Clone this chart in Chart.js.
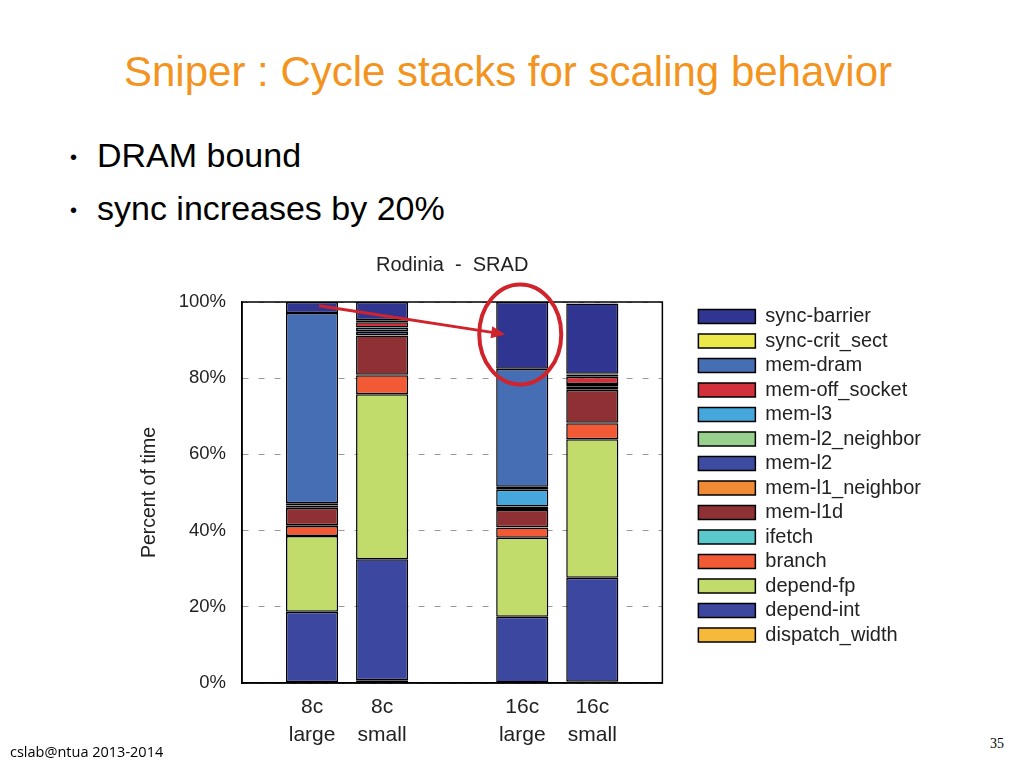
<!DOCTYPE html>
<html>
 <head>
  <meta charset="utf-8">
  <title>Sniper : Cycle stacks for scaling behavior</title>
  <script src="https://cdn.jsdelivr.net/npm/chart.js"></script>
  <style>
    body { margin: 0; width: 1024px; height: 768px; background: #fff; position: relative; overflow: hidden; font-family: "Liberation Sans", Arial, sans-serif; }
    h1 { position: absolute; left: 0; width: 1016px; top: 51px; margin: 0; text-align: center; font-weight: normal; font-size: 42px; line-height: 42px; color: #f39420; }
    ul { position: absolute; left: 70px; top: 138px; margin: 0; padding: 0; list-style: none; font-size: 34px; line-height: 34px; color: #000; }
    ul li { margin-bottom: 19px; }
    ul li:before { content: "\2022"; font-size: 20px; position: absolute; left: 0; margin-top: 2px; }
    ul li span { margin-left: 27px; }
    #wrap { position: absolute; left: 120px; top: 245px; width: 821px; height: 515px; }
    #foot { position: absolute; left: 10px; top: 742px; font-size: 14.5px; color: #000; font-family: "Open Sans", sans-serif; }
    #page { position: absolute; left: 990px; top: 736px; font-size: 14px; font-family: "Liberation Serif", serif; }
  </style>
 </head>
 <body>
  <h1>Sniper : Cycle stacks for scaling behavior</h1>
  <ul>
    <li><span>DRAM bound</span></li>
    <li><span>sync increases by 20%</span></li>
  </ul>
  <div id="wrap"><canvas id="myChart"></canvas></div>
  <div id="foot">cslab@ntua 2013-2014</div>
  <div id="page">35</div>
  <script type="text/javascript">
    // x slots: empty ends and an empty gap between the 8c and 16c pairs
    var xLabels = ["", ["8c", "large"], ["8c", "small"], "", ["16c", "large"], ["16c", "small"], ""];
    var yTicks = [0, 20, 40, 60, 80, 100];

    // percent of time, one value per x slot (null = no bar)
    var dispatchWidth  = [null, 0.2, 0.7, null, 0.1, 0.3, null];
    var dependInt      = [null, 18.5, 31.8, null, 17.3, 27.3, null];
    var dependFp       = [null, 19.9, 43.3, null, 20.7, 36.4, null];
    var branch         = [null, 2.6, 5.0, null, 2.7, 4.2, null];
    var ifetch         = [null, 0.2, 0.1, null, 0.1, 0.1, null];
    var memL1d         = [null, 4.5, 10.3, null, 4.5, 8.6, null];
    var memL1Neighbor  = [null, 0.2, 0.1, null, 0.3, 0.2, null];
    var memL2          = [null, 0.5, 0.9, null, 0.5, 0.6, null];
    var memL2Neighbor  = [null, 0.1, 0.2, null, 0.1, 0.2, null];
    var memL3          = [null, 0.3, 0.9, null, 4.4, 0.6, null];
    var memOffSocket   = [null, 0.2, 1.4, null, 0.8, 1.9, null];
    var memDram        = [null, 49.9, 0.4, null, 30.9, 0.6, null];
    var syncCritSect   = [null, 0.0, 0.2, null, 0.1, 0.2, null];
    var syncBarrier    = [null, 2.9, 4.7, null, 17.5, 18.4, null];

    var series = [
      ["dispatch_width", dispatchWidth, "#f6b93a"],
      ["depend-int", dependInt, "#3c479f"],
      ["depend-fp", dependFp, "#c2dc6c"],
      ["branch", branch, "#f15a35"],
      ["ifetch", ifetch, "#5bc8cc"],
      ["mem-l1d", memL1d, "#8f3134"],
      ["mem-l1_neighbor", memL1Neighbor, "#f08a35"],
      ["mem-l2", memL2, "#3d4ba0"],
      ["mem-l2_neighbor", memL2Neighbor, "#98d08d"],
      ["mem-l3", memL3, "#45a7dc"],
      ["mem-off_socket", memOffSocket, "#d2303a"],
      ["mem-dram", memDram, "#456eb5"],
      ["sync-crit_sect", syncCritSect, "#ede84a"],
      ["sync-barrier", syncBarrier, "#2f3590"]
    ];

    var frame = {
      id: 'frame',
      afterDatasetsDraw: function (chart) {
        var a = chart.chartArea, c = chart.ctx;
        c.save();
        c.strokeStyle = '#000';
        c.lineWidth = 1.5;
        c.strokeRect(a.left, a.top, a.right - a.left, a.bottom - a.top);
        // red highlight: arrow from 8c large sync to 16c large sync, circle around it
        var xs = chart.scales.x, ys = chart.scales.y;
        c.strokeStyle = '#d0232b';
        c.fillStyle = '#d0232b';
        c.lineWidth = 3;
        var x0 = xs.getPixelForTick(1) + 7, y0 = ys.getPixelForValue(99);
        var x1 = xs.getPixelForTick(4) - 17, y1 = ys.getPixelForValue(91.5);
        var ang = Math.atan2(y1 - y0, x1 - x0);
        c.beginPath();
        c.moveTo(x0, y0);
        c.lineTo(x1 - 10 * Math.cos(ang), y1 - 10 * Math.sin(ang));
        c.stroke();
        c.beginPath();
        c.moveTo(x1, y1);
        c.lineTo(x1 - 14 * Math.cos(ang) + 6 * Math.sin(ang), y1 - 14 * Math.sin(ang) - 6 * Math.cos(ang));
        c.lineTo(x1 - 14 * Math.cos(ang) - 6 * Math.sin(ang), y1 - 14 * Math.sin(ang) + 6 * Math.cos(ang));
        c.closePath();
        c.fill();
        c.lineWidth = 4;
        c.beginPath();
        c.ellipse(xs.getPixelForTick(4) - 2, ys.getPixelForValue(91.5), 41, 50, 0, 0, 2 * Math.PI);
        c.stroke();
        c.restore();
      }
    };

    var ctx = document.getElementById('myChart').getContext('2d');
    var myChart = new Chart(ctx, {
      type: 'bar',
      data: {
        labels: xLabels,
        datasets: series.map(function (s) {
          return {
            label: s[0],
            data: s[1],
            backgroundColor: s[2],
            borderColor: '#000',
            borderWidth: 1.5,
            borderSkipped: false,
            categoryPercentage: 0.8,
            barPercentage: 0.93
          };
        })
      },
      options: {
        responsive: true,
        maintainAspectRatio: false,
        animation: false,
        layout: { padding: { right: 10, bottom: 0 } },
        plugins: {
          title: {
            display: true,
            fullSize: false,
            text: 'Rodinia  -  SRAD',
            color: '#222',
            font: { family: 'Liberation Sans', size: 20, weight: 'normal' },
            padding: { top: 8, bottom: 25 }
          },
          legend: {
            position: 'right',
            fullSize: false,
            align: 'start',
            reverse: true,
            maxWidth: 320,
            labels: {
              boxWidth: 57,
              boxHeight: 14,
              padding: 4.5,
              color: '#222',
              font: { family: 'Liberation Sans', size: 20 }
            }
          },
          tooltip: { enabled: false }
        },
        scales: {
          x: {
            stacked: true,
            offset: false,
            grid: { display: false },
            border: { display: true, color: '#000', width: 1.5 },
            ticks: {
              autoSkip: false,
              maxRotation: 0,
              padding: 2,
              color: '#222',
              font: { family: 'Liberation Sans', size: 21, lineHeight: 1.33 }
            },
            afterFit: function (s) { s.height = 77; }
          },
          y: {
            stacked: true,
            min: 0,
            max: 100,
            afterBuildTicks: function (s) { s.ticks = yTicks.map(function (v) { return { value: v }; }); },
            grid: { color: '#9a9a9a', lineWidth: 1, drawTicks: false },
            border: { display: true, color: '#000', width: 1.5, dash: [6, 10] },
            ticks: {
              padding: 16,
              color: '#222',
              font: { family: 'Liberation Sans', size: 18.5 },
              callback: function (v) { return v + '%'; }
            },
            title: {
              display: true,
              text: 'Percent of time',
              color: '#222',
              font: { family: 'Liberation Sans', size: 19.5 },
              padding: { top: 18, bottom: 0 }
            },
            afterFit: function (s) { s.width = 122; }
          },
          gap: {
            position: 'right',
            display: true,
            ticks: { display: false },
            grid: { display: false },
            border: { display: false },
            afterFit: function (s) { s.width = 31.5; }
          }
        }
      },
      plugins: [frame]
    });
  </script>
 </body>
</html>
